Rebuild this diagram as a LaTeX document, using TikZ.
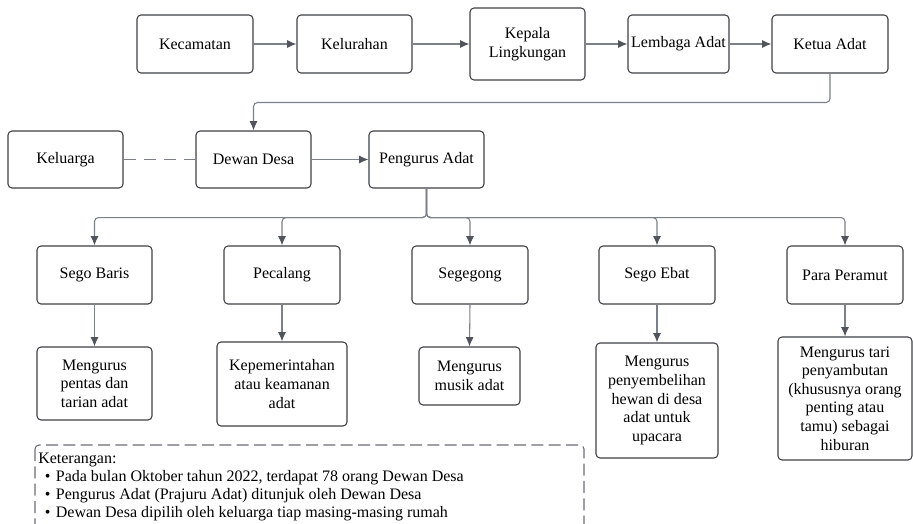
\documentclass[tikz,border=0pt]{standalone}
\usepackage{fontspec}
\setmainfont{LiberationSerif}[Extension=.ttf, UprightFont=*-Regular, BoldFont=*-Bold]
\usetikzlibrary{
  arrows.meta,
  positioning
}
\definecolor{boxline}{HTML}{3F4247}
\definecolor{linkcolor}{HTML}{7C8088}
\definecolor{tipcolor}{HTML}{50555D}
\definecolor{dashcolor}{HTML}{6A6E75}

\begin{document}
\begin{tikzpicture}[
  x=0.75pt, y=-0.75pt,
  box/.style={draw=boxline, line width=0.8pt, rounded corners=3pt, fill=white,
    align=center, inner sep=2pt, font=\rmfamily\fontsize{12}{13.9}\selectfont},
  sz/.style 2 args={minimum width=#1*0.75pt, minimum height=#2*0.75pt},
  link/.style={draw=linkcolor, line width=0.8pt,
    -{Latex[length=7pt, width=6pt, color=tipcolor]}},
  elbow/.style={link, rounded corners=3pt},
  dashlink/.style={draw=linkcolor, line width=0.8pt, dash pattern=on 9pt off 6pt},
  legendbox/.style={draw=dashcolor, line width=0.8pt, rounded corners=3pt,
    dash pattern=on 9pt off 4pt},
  lbl/.style={align=left, inner sep=0pt, font=\rmfamily\fontsize{12}{13.5}\selectfont},
]
  \fill[white] (0,0) rectangle (913,524);
  \useasboundingbox (0,0) rectangle (913,524);
  \clip (0,0) rectangle (913,524);

  % Top row
  \node[box, sz={116}{58}] (kecamatan) at (195,44) {Kecamatan};
  \node[box, sz={115}{58}] (kelurahan) at (354.5,44) {Kelurahan};
  \node[box, sz={115}{72}] (kepala) at (527.5,44) {Kepala\\Lingkungan};
  \node[box, sz={101}{58}] (lembaga) at (678.5,44) {Lembaga Adat};
  \node[box, sz={116}{58}] (ketua) at (830,44) {Ketua Adat};

  % Middle row
  \node[box, sz={115}{57}] (keluarga) at (65.5,159.5) {Keluarga};
  \node[box, sz={115}{57}] (dewan) at (253.5,159.5) {Dewan Desa};
  \node[box, sz={115}{57}] (pengurus) at (426.5,159.5) {Pengurus Adat};

  % Pengurus groups
  \node[box, sz={115}{58}] (baris) at (94.5,275) {Sego Baris};
  \node[box, sz={116}{58}] (pecalang) at (282,275) {Pecalang};
  \node[box, sz={116}{58}] (segegong) at (470,275) {Segegong};
  \node[box, sz={116}{58}] (ebat) at (657,275) {Sego Ebat};
  \node[box, sz={116}{58}] (peramut) at (845,275) {Para Peramut};

  % Tasks
  \node[box, sz={115}{73}] (tbaris) at (94.5,383.5) {Mengurus\\pentas dan\\tarian adat};
  \node[box, sz={130}{84}] (tpecalang) at (282,384) {Kepemerintahan\\atau keamanan\\adat};
  \node[box, sz={101}{58}] (tsegegong) at (469.5,376) {Mengurus\\musik adat};
  \node[box, sz={122}{115}] (tebat) at (657,400.5)
    {Mengurus\\penyembelihan\\hewan di desa\\adat untuk\\upacara};
  \node[box, sz={134}{123}] (tperamut) at (845,398.5)
    {Mengurus tari\\penyambutan\\(khususnya orang\\penting atau\\tamu) sebagai\\hiburan};

  % Connectors
  \draw[link] (kecamatan) -- (kelurahan);
  \draw[link] (kelurahan) -- (kepala);
  \draw[link] (kepala) -- (lembaga);
  \draw[link] (lembaga) -- (ketua);
  \draw[elbow] (ketua.south) -- ++(0,29) -| (dewan.north);
  \draw[dashlink] (keluarga) -- (dewan);
  \draw[link] (dewan) -- (pengurus);
  \foreach \grp in {baris,pecalang,segegong,ebat,peramut}
    \draw[elbow] (pengurus.south) -- ++(0,29) -| (\grp.north);
  \foreach \grp in {baris,pecalang,segegong,ebat,peramut}
    \draw[link] (\grp.south) -- (t\grp.north);

  % Keterangan
  \draw[legendbox] (35,445) rectangle (584,545);
  \node[lbl, anchor=north west] (keterangan) at (38,453)
    {Keterangan:\\
     \hspace{5pt}\textbullet\hspace{4pt}Pada bulan Oktober tahun 2022, terdapat 78 orang Dewan Desa\\
     \hspace{5pt}\textbullet\hspace{4pt}Pengurus Adat (Prajuru Adat) ditunjuk oleh Dewan Desa\\
     \hspace{5pt}\textbullet\hspace{4pt}Dewan Desa dipilih oleh keluarga tiap masing-masing rumah};
\end{tikzpicture}
\end{document}
